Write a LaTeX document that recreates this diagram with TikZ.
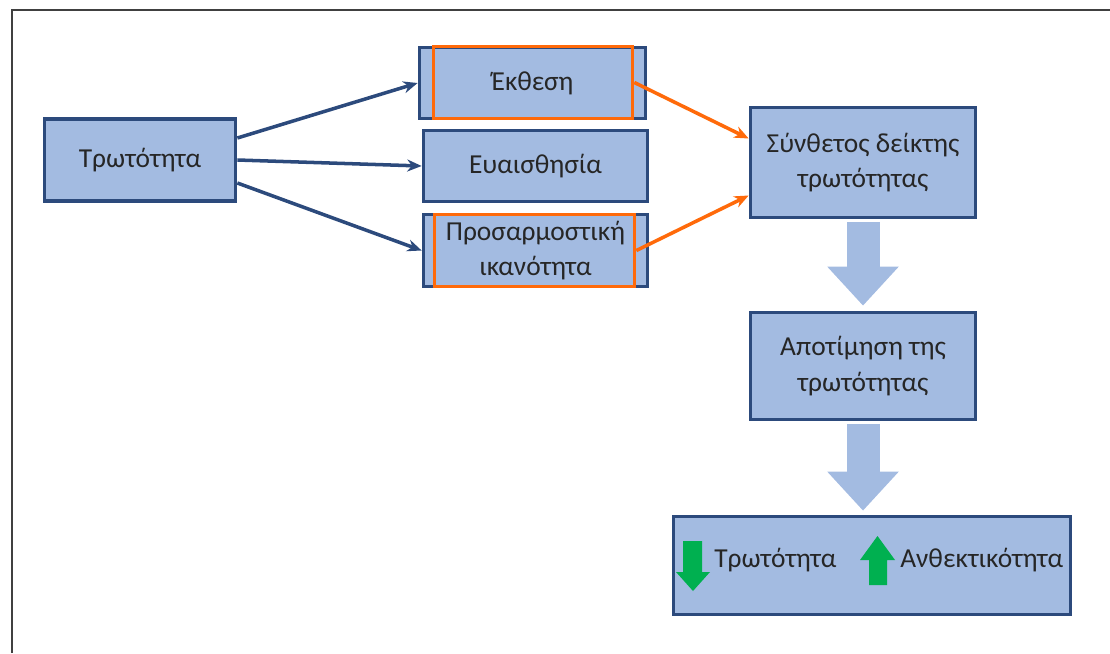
\documentclass[tikz,border=0pt]{standalone}
\usepackage{fontspec}
\setmainfont{Carlito}
\usetikzlibrary{arrows.meta,calc}
\definecolor{boxfill}{HTML}{A3BBE1}
\definecolor{boxline}{HTML}{2C4A7C}
\definecolor{hlorange}{HTML}{FF6A0A}
\definecolor{upgreen}{HTML}{00B050}
\definecolor{txt}{HTML}{262626}
\begin{document}
\begin{tikzpicture}[x=0.025cm,y=-0.025cm,
  every node/.style={text=txt,font=\fontsize{19.5}{25}\selectfont},
  box/.style={draw=boxline,fill=boxfill,line width=2.6pt,align=center,inner sep=0pt},
  hl/.style={draw=hlorange,line width=2.6pt,inner sep=0pt},
  link/.style={draw=boxline,line width=2.5pt,-{Stealth[length=0.36cm,width=0.3cm]}},
  hllink/.style={draw=hlorange,line width=2.5pt,-{Stealth[length=0.36cm,width=0.3cm]}},
  flow/.style={draw=boxfill,line width=0.825cm,-{Triangle[length=0.975cm,width=1.725cm]},shorten <=0.06cm}]
   \useasboundingbox (0,0) rectangle (1110,653);
   \draw[line width=1.4pt,black!75] (12,653) -- (12,10) -- (1110,10);
   % boxes
   \node[box,minimum width=4.775cm,minimum height=2.05cm] (vul) at (140,160) {Τρωτότητα};
   \node[box,minimum width=5.65cm,minimum height=1.775cm] (expo) at (532.5,83) {Έκθεση};
   \node[box,minimum width=5.6cm,minimum height=1.775cm] (sens) at (535.5,166) {Ευαισθησία};
   \node[box,minimum width=5.6cm,minimum height=1.8cm] (adapt) at (535.5,250.5) {Προσαρμοστική\\ικανότητα};
   \node[hl,minimum width=4.975cm,minimum height=1.8cm] (expohl) at (533,82.5) {};
   \node[hl,minimum width=5cm,minimum height=1.8cm] (adapthl) at (534.5,250.5) {};
   \node[box,minimum width=5.625cm,minimum height=2.75cm] (comp) at (863,162.5) {Σύνθετος δείκτης\\τρωτότητας};
   \node[box,minimum width=5.625cm,minimum height=2.675cm] (assess) at (863,366) {Αποτίμηση της\\τρωτότητας};
   \node[box,minimum width=9.925cm,minimum height=2.45cm] (res) at (872,565.5) {};
   % connectors
   \draw[link] ($(vul.east)+(0,-22)$) -- (expo.west);
   \draw[link] (vul.east) -- (sens.west);
   \draw[link] ($(vul.east)+(0,23)$) -- (adapt.west);
   \draw[hllink] (expohl.east) -- ($(comp.west)+(0,-24)$);
   \draw[hllink] (adapthl.east) -- ($(comp.west)+(0,33)$);
   \draw[flow,shorten >=0.125cm] (comp.south) -- (assess.north);
   \draw[flow,shorten >=0.1cm] (assess.south) -- (assess.south |- res.north);
   % result line
   \fill[upgreen] (683,541) -- (702,541) -- (702,572) -- (710,572) -- (693,591) -- (676,572) -- (683,572) -- cycle;
   \fill[upgreen] (877.5,536) -- (895,560) -- (887,560) -- (887,585) -- (869,585) -- (869,560) -- (860,560) -- cycle;
   \node[anchor=base west,inner sep=0pt] (resdown) at (714,567) {Τρωτότητα};
   \node[anchor=base west,inner sep=0pt] (resup) at (900,567) {Ανθεκτικότητα};
\end{tikzpicture}
\end{document}
